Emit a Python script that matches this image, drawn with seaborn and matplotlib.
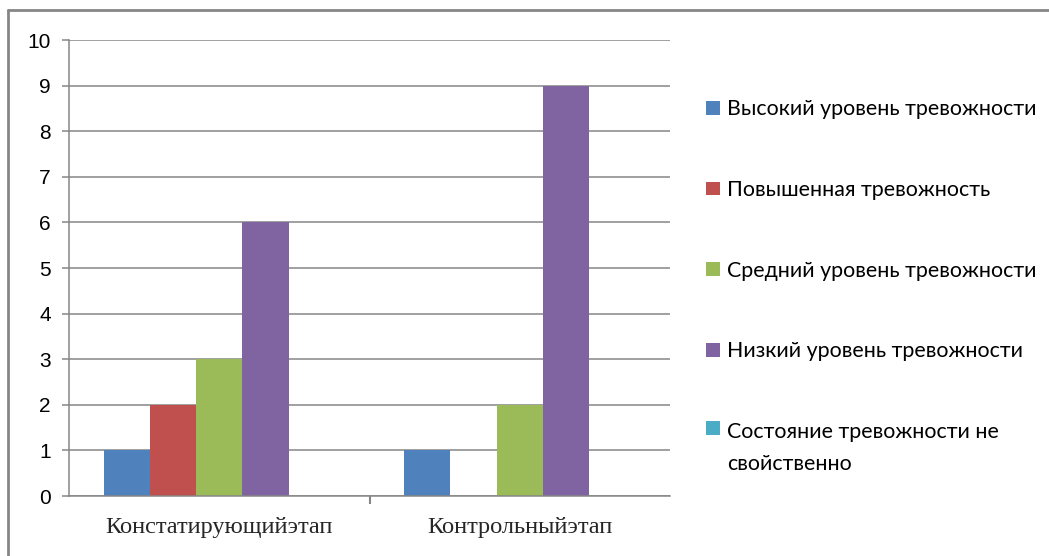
import matplotlib
matplotlib.use("Agg")
import matplotlib.pyplot as plt
from matplotlib.lines import Line2D
from matplotlib.patches import Patch, Rectangle
from matplotlib.legend_handler import HandlerPatch
import seaborn as sns
import pandas as pd

# Survey results by stage
stages = ["Констатирующийэтап", "Контрольныйэтап"]
levels = [
    "Высокий уровень тревожности",
    "Повышенная тревожность",
    "Средний уровень тревожности",
    "Низкий уровень тревожности",
    "Состояние тревожности не\nсвойственно",
]
values_stage1 = [1, 2, 3, 6, 0]
values_stage2 = [1, 0, 2, 9, 0]
colors = ["#4F81BD", "#C0504D", "#9BBB59", "#8064A2", "#4BACC6"]
y_ticks = [0, 1, 2, 3, 4, 5, 6, 7, 8, 9, 10]

df = pd.DataFrame({
    "stage": [stages[0]] * len(levels) + [stages[1]] * len(levels),
    "level": levels + levels,
    "count": values_stage1 + values_stage2,
})

sns.set_theme(style="white")
plt.rcParams["font.family"] = ["Liberation Sans", "DejaVu Sans"]

fig = plt.figure(figsize=(10.49, 5.56), dpi=100)
ax = fig.add_axes([69 / 1049, 60 / 556, 601 / 1049, 456 / 556])

sns.barplot(data=df, x="stage", y="count", hue="level", hue_order=levels,
            palette=colors, width=0.77, gap=0, saturation=1, ax=ax,
            legend=False, edgecolor="none", linewidth=0)

ax.set_ylim(0, 10)
ax.set_xlim(-0.5, 1.5)
ax.set_yticks(y_ticks)
ax.yaxis.grid(True, color="#868686", linewidth=1.1)
ax.set_axisbelow(True)
ax.set_xlabel("")
ax.set_ylabel("")

for side in ["top", "right"]:
    ax.spines[side].set_visible(False)
for side in ["left", "bottom"]:
    ax.spines[side].set_color("#868686")
    ax.spines[side].set_linewidth(1.1)

ax.tick_params(axis="y", which="major", left=True, length=5, width=1.1,
               color="#868686", pad=8, labelsize=15, labelcolor="#000000")
# separator between categories on the x axis
ax.set_xticks([0.5], minor=True)
ax.tick_params(axis="x", which="minor", bottom=True, length=6, width=1.5,
               color="#868686")
ax.tick_params(axis="x", which="major", bottom=False, pad=9, labelsize=17.6)
for lbl in ax.get_xticklabels():
    lbl.set_family(["Liberation Serif", "DejaVu Serif"])


def top_aligned_patch(legend, orig_handle, xdescent, ydescent, width, height, fontsize):
    # keep the swatch level with the first line of a two-line label
    return Rectangle((-xdescent, -ydescent + 0.95 * fontsize), width, height)


handles = [Patch(facecolor=c, edgecolor="none") for c in colors]
leg = fig.legend(handles, levels, loc="upper left",
                 bbox_to_anchor=(687 / 1049, 1 - 80 / 556),
                 frameon=False, prop={"family": ["Lato", "DejaVu Sans"], "size": 15.4},
                 handlelength=0.62, handleheight=0.62, handletextpad=0.36,
                 labelspacing=2.84, alignment="left",
                 handler_map={handles[-1]: HandlerPatch(patch_func=top_aligned_patch)})
for t in leg.get_texts():
    t.set_linespacing(1.75)
    t.set_color("#000000")

# chart frame on the top and left edges
fig.add_artist(Line2D([8 / 1049, 1.0], [1 - 10 / 556] * 2, color="#868686",
                      linewidth=2, transform=fig.transFigure))
fig.add_artist(Line2D([8 / 1049] * 2, [0.0, 1 - 10 / 556], color="#868686",
                      linewidth=2, transform=fig.transFigure))

fig.savefig("out.png", dpi=100)
